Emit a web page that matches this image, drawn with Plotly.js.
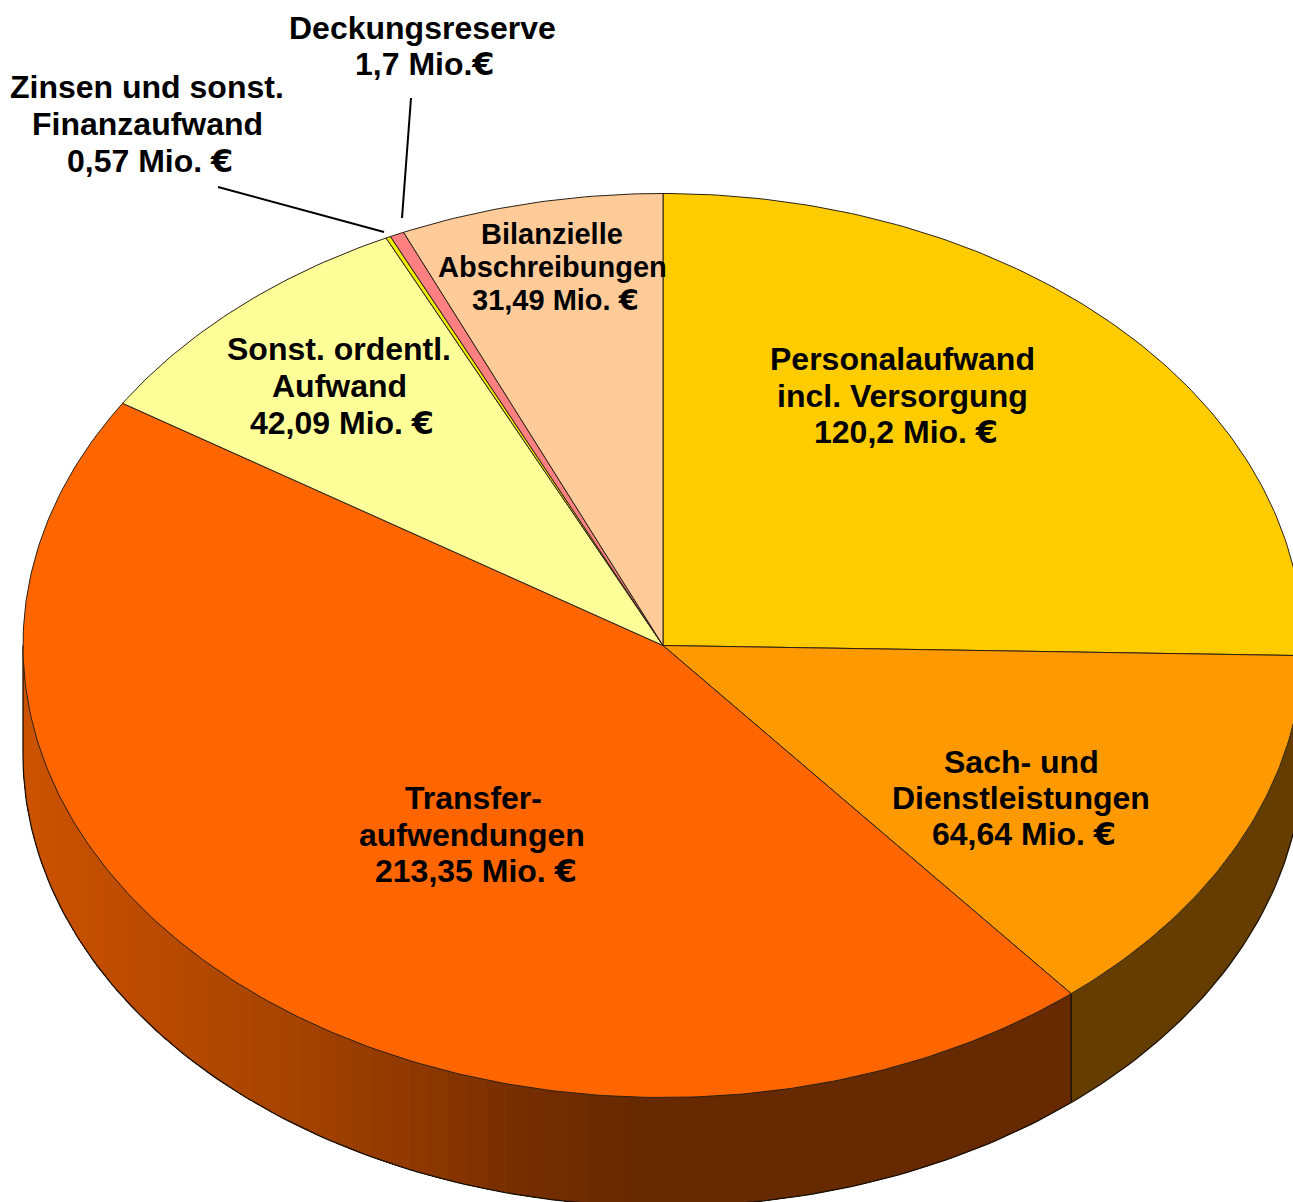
<!DOCTYPE html>
<html>
<head>
<meta charset="utf-8">
<script src="https://cdn.plot.ly/plotly-3.0.1.min.js"></script>
<style>html,body{margin:0;padding:0;background:#fff;overflow:hidden}#chart{width:1293px;height:1202px}</style>
</head>
<body>
<div id="chart"></div>
<script>
// Chart data
const categories = ["Personalaufwand incl. Versorgung","Sach- und Dienstleistungen","Transferaufwendungen","Sonst. ordentl. Aufwand","Zinsen und sonst. Finanzaufwand","Deckungsreserve","Bilanzielle Abschreibungen"];
const values = [120.2,64.64,213.35,42.09,0.57,1.7,31.49];
const topColors = ["#FFCC00","#FF9900","#FF6600","#FFFF99","#EEEE00","#FF8080","#FFCC99"];
const wallColors = ["#665200","#663D00",null,null,null,null,null];
const gradientX = [23,120,250,400,520,640,1293];
const gradientC = [[204,83,0],[190,76,0],[172,70,0],[146,58,0],[118,46,0],[102,41,0],[102,41,0]];
const labelLines = [
  ["Personalaufwand","incl. Versorgung","120,2 Mio. €"],
  ["Sach- und","Dienstleistungen","64,64 Mio. €"],
  ["Transfer-","aufwendungen","213,35 Mio. €"],
  ["Sonst. ordentl.","Aufwand","42,09 Mio. €"],
  ["Zinsen und sonst.","Finanzaufwand","0,57 Mio. €"],
  ["Deckungsreserve","1,7 Mio.€"],
  ["Bilanzielle","Abschreibungen","31,49 Mio. €"]
];
// Layout of the drawing
const labelX = [[902,902,906],[1021,1021,1024],[473,472,476],[339,339,342],[147,147,150],[422,425],[552,552,555]];
const labelY = [[359,396,432],[762,798,834],[798,835,871],[349,386,423],[87,124,161],[28,64],[233.5,267,300]];
const labelSize = [32,32,32,32,32,32,29];
const leaderX = [[411,402],[218,384]];
const leaderY = [[98,218],[187,232]];
const CX=663, CY=645.5, RX=640, RY=452, DEPTH=109, EDGE="#2b2015";

const total = values.reduce((a,b)=>a+b,0);
const px = t => CX+RX*Math.sin(t);
const py = t => CY-RY*Math.cos(t);
let cum=0;
const starts=[], ends=[];
values.forEach(v=>{starts.push(cum/total*2*Math.PI);cum+=v;ends.push(cum/total*2*Math.PI);});

function gradColor(x){
  for(let i=0;i<gradientX.length-1;i++){
    if(x<=gradientX[i+1]){
      const f=Math.max(0,(x-gradientX[i])/(gradientX[i+1]-gradientX[i]));
      const c=gradientC[i].map((a,k)=>Math.round(a+(gradientC[i+1][k]-a)*f));
      return `rgb(${c[0]},${c[1]},${c[2]})`;
    }
  }
  return "rgb(102,41,0)";
}
function arc(a,b,n){const o=[];for(let i=0;i<=n;i++)o.push(a+(b-a)*i/n);return o;}
function wall(a,b,color){
  const ts=arc(a,b,Math.max(2,Math.ceil((b-a)*80)));
  const x=ts.map(px).concat(ts.slice().reverse().map(px));
  const y=ts.map(py).concat(ts.slice().reverse().map(t=>py(t)+DEPTH));
  return {type:"scatter",mode:"lines",x,y,fill:"toself",fillcolor:color,line:{color,width:0},hoverinfo:"skip",showlegend:false};
}
const traces=[];
const HALF=Math.PI/2, LEFT=3*Math.PI/2;
// Walls: gradient bands are painted one over the next so no seams show
categories.forEach((c,i)=>{
  const a=Math.max(starts[i],HALF), b=Math.min(ends[i],LEFT);
  if(b<=a) return;
  if(wallColors[i]){traces.push(wall(a,b,wallColors[i]));return;}
  const n=70;
  for(let k=0;k<n;k++){
    const t0=a+(b-a)*k/n,t1=a+(b-a)*(k+1)/n;
    traces.push(wall(t0,b,gradColor((px(t0)+px(t1))/2)));
  }
});
// Wall outline
const rim=arc(HALF,LEFT,200);
traces.push({type:"scatter",mode:"lines",x:rim.map(px).concat([px(LEFT),px(LEFT)]),y:rim.map(t=>py(t)+DEPTH).concat([py(LEFT)+DEPTH,py(LEFT)]),line:{color:"#1c1208",width:1.3},hoverinfo:"skip",showlegend:false});
values.forEach((v,i)=>{
  const e=ends[i];
  if(e>HALF&&e<LEFT) traces.push({type:"scatter",mode:"lines",x:[px(e),px(e)],y:[py(e),py(e)+DEPTH],line:{color:"#1c1208",width:1.5},hoverinfo:"skip",showlegend:false});
});
// Top wedges
categories.forEach((c,i)=>{
  const ts=arc(starts[i],ends[i],Math.max(4,Math.ceil((ends[i]-starts[i])*80)));
  traces.push({type:"scatter",mode:"lines",name:c,x:[CX].concat(ts.map(px),[CX]),y:[CY].concat(ts.map(py),[CY]),
    fill:"toself",fillcolor:topColors[i],line:{color:EDGE,width:1},hoverinfo:"skip",showlegend:false});
});
// Leader lines
leaderX.forEach((lx,i)=>traces.push({type:"scatter",mode:"lines",x:lx,y:leaderY[i],line:{color:"#000",width:2},hoverinfo:"skip",showlegend:false}));

const annotations=[];
labelLines.forEach((lines,i)=>lines.forEach((t,j)=>annotations.push({
  x:labelX[i][j],y:labelY[i][j],xref:"x",yref:"y",
  text:t.replace("€",'<span style="font-family:DejaVu Sans">€</span>'),
  showarrow:false,xanchor:"center",yanchor:"middle",
  font:{family:"Liberation Sans, Arial, sans-serif",size:labelSize[i],color:"#000",weight:700}
})));

const layout={width:1293,height:1202,margin:{l:0,r:0,t:0,b:0},paper_bgcolor:"#fff",plot_bgcolor:"#fff",showlegend:false,
  xaxis:{range:[0,1293],visible:false,fixedrange:true},
  yaxis:{range:[1202,0],visible:false,fixedrange:true},
  annotations};
Plotly.newPlot("chart",traces,layout,{displayModeBar:false,staticPlot:true});
</script>
</body>
</html>
